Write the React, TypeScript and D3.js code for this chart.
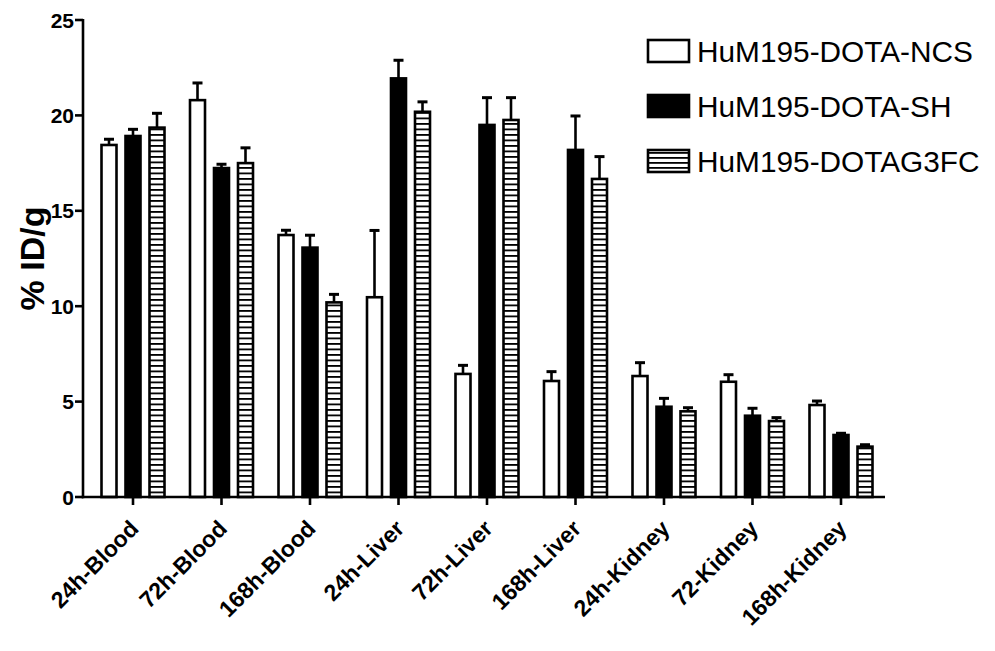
import React from "react";
import * as d3 from "d3";

const W = 995;
const H = 651;

// tissue / time points on the x axis
const categories = [
  "24h-Blood", "72h-Blood", "168h-Blood",
  "24h-Liver", "72h-Liver", "168h-Liver",
  "24h-Kidney", "72-Kidney", "168h-Kidney",
];

const seriesNames = ["HuM195-DOTA-NCS", "HuM195-DOTA-SH", "HuM195-DOTAG3FC"];

// %ID/g means
const ncsValues = [18.45, 20.8, 13.73, 10.47, 6.45, 6.08, 6.34, 6.04, 4.82];
const shValues = [18.92, 17.24, 13.07, 21.94, 19.5, 18.19, 4.73, 4.26, 3.25];
const g3fcValues = [19.36, 17.5, 10.2, 20.19, 19.76, 16.67, 4.49, 3.98, 2.64];

// upper error bars (SD)
const ncsErr = [0.3, 0.9, 0.25, 3.5, 0.45, 0.49, 0.7, 0.37, 0.21];
const shErr = [0.35, 0.2, 0.65, 0.95, 1.43, 1.78, 0.44, 0.39, 0.09];
const g3fcErr = [0.75, 0.8, 0.42, 0.52, 1.17, 1.17, 0.19, 0.18, 0.1];

const yTicks = [0, 5, 10, 15, 20, 25];

const margin = { top: 20, left: 83, right: 110, bottom: 154 };
const font = "Arial, 'Liberation Sans', Helvetica, sans-serif";

export default function App() {
  const y = d3
    .scaleLinear()
    .domain([0, 25])
    .range([H - margin.bottom, margin.top]);

  const x = d3
    .scaleBand()
    .domain(categories)
    .range([88.75, 885.25])
    .padding(0);

  const sub = d3.scalePoint().domain(seriesNames).range([-24, 24]);
  const barW = 15;

  const series = [
    { name: seriesNames[0], values: ncsValues, err: ncsErr, fill: "#fff" },
    { name: seriesNames[1], values: shValues, err: shErr, fill: "#000" },
    { name: seriesNames[2], values: g3fcValues, err: g3fcErr, fill: "url(#hatch)" },
  ];

  const y0 = y(0);
  const axisEnd = 885;

  return (
    <svg
      width={W}
      height={H}
      style={{ position: "absolute", left: 0, top: 0, background: "#fff" }}
    >
      <defs>
        <pattern id="hatch" patternUnits="userSpaceOnUse" width="8" height="5.5" y={y0}>
          <rect width="8" height="5.5" fill="#fff" />
          <line x1="0" x2="8" y1="0.9" y2="0.9" stroke="#000" strokeWidth="1.8" />
        </pattern>
        <pattern id="hatchLegend" patternUnits="userSpaceOnUse" width="8" height="5" y="162">
          <rect width="8" height="5" fill="#fff" />
          <line x1="0" x2="8" y1="0.9" y2="0.9" stroke="#000" strokeWidth="1.8" />
        </pattern>
      </defs>

      {/* bars */}
      {series.map((s) =>
        categories.map((c, i) => {
          const cx = (x(c) ?? 0) + x.bandwidth() / 2 + (sub(s.name) ?? 0);
          const top = y(s.values[i]);
          const errTop = y(s.values[i] + s.err[i]);
          return (
            <g key={s.name + c}>
              <line x1={cx} x2={cx} y1={top} y2={errTop} stroke="#000" strokeWidth={2.6} />
              <line x1={cx - 5} x2={cx + 5} y1={errTop} y2={errTop} stroke="#000" strokeWidth={3} />
              <rect
                x={cx - barW / 2}
                y={top}
                width={barW}
                height={y0 - top}
                fill={s.fill}
                stroke="#000"
                strokeWidth={2.6}
              />
            </g>
          );
        })
      )}

      {/* y axis */}
      <line x1={margin.left} x2={margin.left} y1={y(25) - 1} y2={y0 + 1.3} stroke="#000" strokeWidth={2.6} />
      {yTicks.map((t) => (
        <g key={t}>
          <line x1={margin.left - 8} x2={margin.left} y1={y(t)} y2={y(t)} stroke="#000" strokeWidth={2.6} />
          <text
            x={margin.left - 9}
            y={y(t)}
            dy="0.36em"
            textAnchor="end"
            fontFamily={font}
            fontWeight="bold"
            fontSize={21}
          >
            {t}
          </text>
        </g>
      ))}
      <text
        transform={`translate(44,${(y(0) + y(25)) / 2}) rotate(-90)`}
        textAnchor="middle"
        fontFamily={font}
        fontWeight="bold"
        fontSize={34}
      >
        % ID/g
      </text>

      {/* x axis */}
      <line x1={margin.left - 1.3} x2={axisEnd} y1={y0} y2={y0} stroke="#000" strokeWidth={2.6} />
      {categories.map((c) => {
        const cx = (x(c) ?? 0) + x.bandwidth() / 2;
        return (
          <g key={c}>
            <line x1={cx} x2={cx} y1={y0} y2={y0 + 8} stroke="#000" strokeWidth={2.6} />
            <text
              transform={`translate(${cx + 7},${y0 + 33}) rotate(-45)`}
              textAnchor="end"
              fontFamily={font}
              fontWeight="bold"
              fontSize={23}
            >
              {c}
            </text>
          </g>
        );
      })}

      {/* legend */}
      {series.map((s, i) => {
        const ly = 40 + i * 55;
        return (
          <g key={s.name}>
            <rect
              x={648}
              y={ly}
              width={41}
              height={22}
              fill={i === 2 ? "url(#hatchLegend)" : s.fill}
              stroke="#000"
              strokeWidth={2.6}
            />
            <text x={697} y={ly + 22} fontFamily={font} fontSize={29.8}>
              {s.name}
            </text>
          </g>
        );
      })}
    </svg>
  );
}
